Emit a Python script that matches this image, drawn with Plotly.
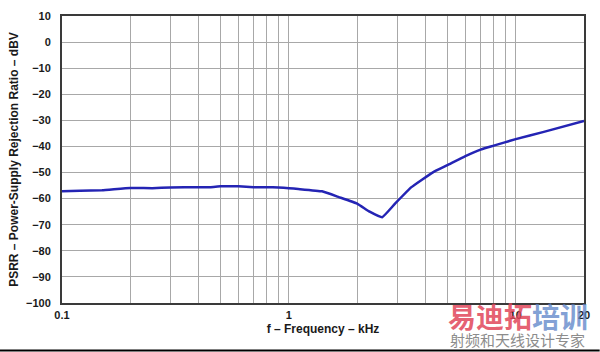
import plotly.graph_objects as go

# Data
freq_khz = [0.1, 0.12, 0.15, 0.2, 0.25, 0.3, 0.4, 0.45, 0.5, 0.55, 0.6, 0.7, 0.8, 0.9,
            1.0, 1.1, 1.4, 1.66, 2.0, 2.27, 2.58, 2.94, 3.47, 4.3, 5.0, 6.0, 7.0, 8.0,
            10.0, 13.3, 20.0]
psrr_dbv = [-57.2, -57.0, -56.8, -55.9, -56.0, -55.7, -55.6, -55.6, -55.3, -55.3, -55.3,
            -55.6, -55.6, -55.7, -56.0, -56.3, -57.2, -59.4, -61.9, -65.0, -67.1, -61.9,
            -55.6, -50.0, -47.2, -43.7, -41.2, -39.7, -37.2, -34.4, -30.2]

x_tick_vals = [0.1, 1, 10, 20]
x_tick_text = ["0.1", "1", "10", "20"]
x_minor_vals = [0.2, 0.3, 0.4, 0.5, 0.6, 0.7, 0.8, 0.9, 2, 3, 4, 5, 6, 7, 8, 9]
y_tick_vals = list(range(-100, 11, 10))
y_tick_text = [("\u2212" + str(-v)) if v < 0 else str(v) for v in y_tick_vals]

grid_color = "#a8a8a8"
frame_color = "#3a3a3a"
label_font = dict(family="Liberation Sans, Arial, sans-serif", size=11, color="#1a1a1a", weight="bold")
title_font = dict(family="Liberation Sans, Arial, sans-serif", size=12, color="#1a1a1a", weight="bold")

fig = go.Figure()
fig.add_trace(go.Scatter(x=freq_khz, y=psrr_dbv, mode="lines",
                         line=dict(color="#2424b4", width=2.5, shape="spline", smoothing=0.3),
                         showlegend=False, hoverinfo="skip"))

fig.update_layout(
    width=600, height=352,
    margin=dict(l=62, r=13, t=10, b=49),
    paper_bgcolor="white", plot_bgcolor="white",
    xaxis=dict(type="log", range=[-1, 1.30103],
               tickvals=x_tick_vals, ticktext=x_tick_text,
               showgrid=True, gridcolor=grid_color, gridwidth=1,
               minor=dict(tickvals=x_minor_vals, showgrid=True, gridcolor=grid_color, gridwidth=1, ticks=""),
               ticks="", tickfont=label_font, ticklabelstandoff=1,
               showline=True, mirror=True, linecolor=frame_color, linewidth=2,
               zeroline=False,
               title=dict(text="f \u2013 Frequency \u2013 kHz", font=title_font, standoff=4)),
    yaxis=dict(range=[-100, 10], tickvals=y_tick_vals, ticktext=y_tick_text,
               showgrid=True, gridcolor=grid_color, gridwidth=1,
               ticks="", tickfont=label_font, ticklabelstandoff=7,
               showline=True, mirror=True, linecolor=frame_color, linewidth=2,
               zeroline=False,
               title=dict(text="PSRR \u2013 Power-Supply Rejection Ratio \u2013 dBV", font=title_font, standoff=5)),
)

# watermark
fig.add_annotation(xref="paper", yref="paper", x=0.873, y=-0.045, xanchor="center", yanchor="middle",
                   text="<span style='color:rgba(225,70,90,0.85)'>易迪拓</span><span style='color:rgba(90,130,200,0.75)'>培训</span>",
                   showarrow=False, font=dict(family="Noto Sans CJK SC", size=28, weight="bold"))
fig.add_annotation(xref="paper", yref="paper", x=0.873, y=-0.128, xanchor="center", yanchor="middle",
                   text="射频和天线设计专家", showarrow=False,
                   font=dict(family="Noto Sans CJK SC", size=15, color="#8c8c8c"))
# bottom black edge
fig.add_shape(type="rect", xref="paper", yref="paper", x0=-0.12, x1=1.03, y0=-0.1686, y1=-0.1617,
              fillcolor="black", line=dict(width=0), layer="above")

fig.write_html("out.html")
